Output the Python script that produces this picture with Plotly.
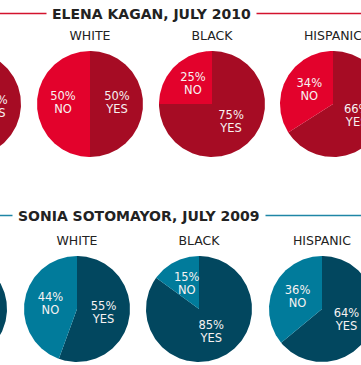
import numpy as np
import plotly.graph_objects as go

W, H = 361, 365

# ---------------- data ----------------
groups = ["ALL", "WHITE", "BLACK", "HISPANIC"]
kagan_yes = [54, 50, 75, 66]
kagan_no = [46, 50, 25, 34]
soto_yes = [60, 55, 85, 64]
soto_no = [40, 44, 15, 36]
titles = ["ELENA KAGAN, JULY 2010", "SONIA SOTOMAYOR, JULY 2009"]
answer_labels = ["YES", "NO"]

# ---------------- layout constants ----------------
R = 53
rows = [
    dict(yes=kagan_yes, no=kagan_no, title=titles[0], cy=104, cxs=[-32, 90, 212, 333],
         title_x=151.5, title_y=14, cat_y=37,
         c_yes="#a60c24", c_no="#e3022c", line="#d3132d"),
    dict(yes=soto_yes, no=soto_no, title=titles[1], cy=309, cxs=[-46, 77, 199, 322],
         title_x=138.5, title_y=216, cat_y=242,
         c_yes="#02475f", c_no="#017b9b", line="#1f86a6"),
]

FONT = "DejaVu Sans"
fig = go.Figure()
annotations = []
shapes = []


def arc(cx, cy, t0, t1):
    """polygon of a slice; angles in degrees clockwise from 12 o'clock"""
    n = max(int(abs(t1 - t0)), 2)
    t = np.radians(np.linspace(t0, t1, n + 1))
    xs = np.concatenate([[cx], cx + R * np.sin(t), [cx]])
    ys = np.concatenate([[cy], cy - R * np.cos(t), [cy]])
    return xs, ys


for row in rows:
    cy = row["cy"]
    # title rule
    shapes.append(dict(type="line", xref="x", yref="y", x0=0, x1=W,
                       y0=row["title_y"] - 0.5, y1=row["title_y"] - 0.5,
                       line=dict(color=row["line"], width=1.6), layer="below"))
    annotations.append(dict(x=row["title_x"], y=row["title_y"], xref="x", yref="y",
                            text="<b>" + row["title"] + "</b>", showarrow=False,
                            font=dict(family=FONT, size=14, color="#222222"),
                            bgcolor="white", borderpad=5))
    pct_x, pct_y, pct_t, lab_x, lab_y, lab_t = [], [], [], [], [], []
    cat_x, cat_t = [], []
    for g, cx, y, nn in zip(groups, row["cxs"], row["yes"], row["no"]):
        tot = y + nn
        a_no = 360.0 * nn / tot
        # YES clockwise from top, NO counter-clockwise from top
        xs, ys = arc(cx, cy, 0, 360 - a_no)
        fig.add_trace(go.Scatter(x=xs, y=ys, fill="toself", mode="lines",
                                 line=dict(width=0), fillcolor=row["c_yes"],
                                 hoverinfo="skip", showlegend=False))
        xs, ys = arc(cx, cy, 360 - a_no, 360)
        fig.add_trace(go.Scatter(x=xs, y=ys, fill="toself", mode="lines",
                                 line=dict(width=0), fillcolor=row["c_no"],
                                 hoverinfo="skip", showlegend=False))
        rl = 27
        for val, mid, name in [(y, (360 - a_no) / 2, "YES"), (nn, 360 - a_no / 2, "NO")]:
            m = np.radians(mid)
            tx = cx + rl * np.sin(m)
            ty = cy - rl * np.cos(m)
            pct_x.append(tx); pct_y.append(ty - 6.5); pct_t.append(f"{val}%")
            lab_x.append(tx); lab_y.append(ty + 6.5); lab_t.append(name)
        cat_x.append(cx); cat_t.append(g)
    txtfont = dict(family=FONT, size=11.5, color="#f7f2f2")
    fig.add_trace(go.Scatter(x=pct_x, y=pct_y, text=pct_t, mode="text",
                             textfont=txtfont, hoverinfo="skip", showlegend=False))
    fig.add_trace(go.Scatter(x=lab_x, y=lab_y, text=lab_t, mode="text",
                             textfont=txtfont, hoverinfo="skip", showlegend=False))
    fig.add_trace(go.Scatter(x=cat_x, y=[row["cat_y"]] * len(cat_x), text=cat_t,
                             mode="text",
                             textfont=dict(family=FONT, size=12.5, color="#222222"),
                             hoverinfo="skip", showlegend=False))

fig.update_layout(
    width=W, height=H, autosize=False,
    margin=dict(l=0, r=0, t=0, b=0),
    paper_bgcolor="white", plot_bgcolor="white",
    xaxis=dict(range=[0, W], visible=False, fixedrange=True),
    yaxis=dict(range=[H, 0], visible=False, fixedrange=True),
    annotations=annotations, shapes=shapes,
)

fig.write_html("out.html", config={"displayModeBar": False},
               post_script="document.body.style.margin='0';")
